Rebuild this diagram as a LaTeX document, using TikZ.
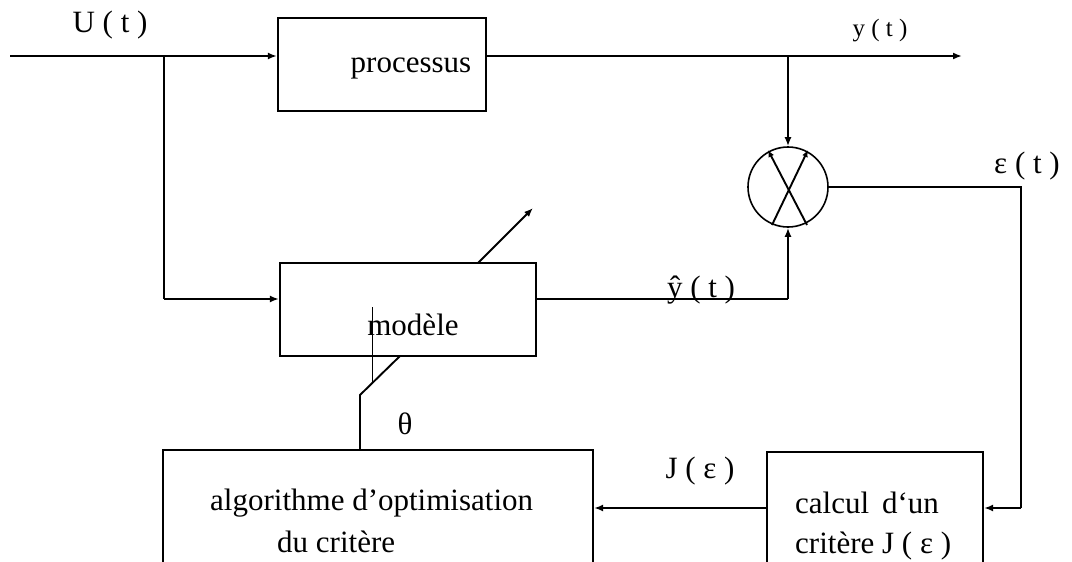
\documentclass[tikz,border=0pt]{standalone}
\usepackage{fontspec}
\setmainfont{Liberation Serif}
\usetikzlibrary{arrows.meta,calc}

\begin{document}
\begin{tikzpicture}[x=1pt,y=-1pt,
  wire/.style={line width=1.9pt},
  sig/.style={wire,-{Latex[length=9pt,width=7pt]}},
  block/.style={draw,line width=2.2pt,fill=white,rectangle,inner sep=0pt},
  lbl/.style={font=\fontsize{31}{33}\selectfont,inner sep=0pt},
  small/.style={font=\fontsize{25}{27}\selectfont,inner sep=0pt},
  txt/.style={font=\fontsize{31}{33}\selectfont,inner sep=0pt}]
\useasboundingbox (0,0) rectangle (1072,562);
\clip (0,0) rectangle (1072,562);

% parameter adjustment line (drawn first so the model block covers it)
\coordinate (th0) at (360,450);
\coordinate (th1) at (360,395);
\coordinate (pa) at (400,356);
\coordinate (pb) at (478,263);
\coordinate (pc) at (533,208);

% blocks
\node[block,minimum width=208pt,minimum height=93pt] (proc) at (382,64.5) {};
\node[block,minimum width=256pt,minimum height=93pt] (model) at (408,309.5) {};
\node[block,minimum width=430pt,minimum height=200pt] (algo) at (378,550) {};
\node[block,minimum width=216pt,minimum height=198pt] (calc) at (875,551) {};
\node[circle,draw,line width=1.6pt,minimum size=80pt,inner sep=0pt] (sum) at (788,187) {};

% block texts
\node[txt,anchor=base] (ptxt) at (411,72) {processus};
\node[txt,anchor=base] (mtxt) at (413,335) {modèle};
\node[txt,anchor=base west] (a1) at (210,510) {algorithme d'optimisation};
\node[txt,anchor=base west] (a2) at (277,552) {du critère};
\node[txt,anchor=base west] (c1) at (795,513) {calcul\, d`un};
\node[txt,anchor=base west] (c2) at (795,553) {critère J ( ε )};

% routing points
\coordinate (uin) at (10,56);
\coordinate (uj) at (164,56);
\coordinate (mj) at (164,299);
\coordinate (yout) at (962,56);
\coordinate (yb) at (788,56);
\coordinate (mo) at (788,299);
\coordinate (ec) at (1021,187);
\coordinate (ed) at (1021,508);
\coordinate (tl1) at (372,307);
\coordinate (tl2) at (372,383);

% signal connectors
\draw[sig] (uin) -- (proc.west |- uin);
\draw[wire] (uj) -- (mj);
\draw[sig] (mj) -- (model.west |- mj);
\draw[sig] (proc.east |- yout) -- (yout);
\draw[sig] (yb) -- (sum.north);
\draw[wire] (model.east |- mo) -- (mo);
\draw[sig] (mo) -- (sum.south);
\draw[wire] (sum.east) -- (ec) -- (ed);
\draw[sig] (ed) -- (calc.east |- ed);
\draw[sig] (calc.west |- ed) -- (algo.east |- ed);

% parameter line theta and adjustment arrow across the model
\draw[wire] (th0) -- (th1) -- (pa);
\draw[sig] (pb) -- (pc);
\draw[line width=0.9pt] (tl1) -- (tl2);

% comparator cross
\draw[wire,-{Latex[length=7pt,width=6pt]}] ($(sum)+(19,38)$) -- ($(sum)+(-20,-37)$);
\draw[wire,-{Latex[length=7pt,width=6pt]}] ($(sum)+(-16,38)$) -- ($(sum)+(20,-37)$);

% signal labels
\node[lbl] (ulab) at (110,25) {U ( t )};
\node[small] (ylab) at (880,31) {y ( t )};
\node[lbl] (elab) at (1027,166) {ε ( t )};
\node[lbl,anchor=base] (yhat) at (701,297) {ŷ ( t )};
\node[lbl] (jlab) at (700,471) {J ( ε )};
\node[lbl] (thlab) at (405,424) {θ};
\end{tikzpicture}
\end{document}
